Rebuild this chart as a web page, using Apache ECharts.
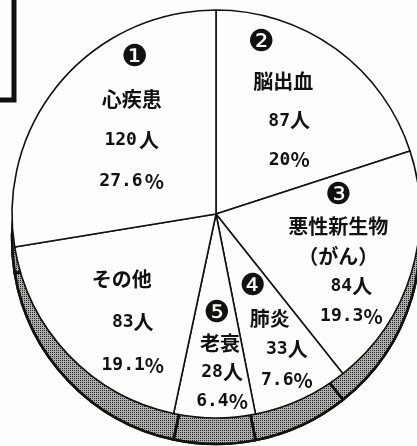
<!DOCTYPE html>
<html>
<head>
<meta charset="utf-8">
<script src="https://cdn.jsdelivr.net/npm/echarts@6/dist/echarts.min.js"></script>
<style>
    html, body { margin: 0; padding: 0; background: #fdfdfb; }
    #chart { width: 417px; height: 446px; }
</style>
</head>
<body>
<div id="chart"></div>
<script>
// 死因別の内訳（時計回り、12時の位置から）
const causes   = ['脳出血', '悪性新生物', '肺炎', '老衰', 'その他', '心疾患'];
const deaths   = [87, 84, 33, 28, 83, 120];
const shares   = ['20', '19.3', '7.6', '6.4', '19.1', '27.6'];
const ranks    = ['❷', '❸', '❹', '❺', '', '❶'];
const subNotes = ['', '（がん）', '', '', '', ''];

const CJK  = '"Noto Sans CJK JP", sans-serif';
const MONO = '"DejaVu Sans Mono", "Liberation Mono", monospace';

const CENTER = [216, 214];
const R = 204;

// ラベル位置の微調整（行間・ずれ・行ごとの横ずらし [番号, 名前, 数値]）
const labelTweak = {
    '脳出血':     { lh: 39, dx: -6, dy: -5, sh: [-27, -5, 1] },
    '悪性新生物': { lh: 30, dx: 0,  dy: 4,  sh: [-5, -5, 8] },
    '肺炎':       { lh: 31, dx: 3,  dy: -1, sh: [-22, -5, 12] },
    '老衰':       { lh: 29, dx: 5,  dy: 11, sh: [-3, 0, 2] },
    'その他':     { lh: 43, dx: 9,  dy: 17, sh: [0, -7, 4] },
    '心疾患':     { lh: 41, dx: 17, dy: -8, sh: [3, 0, -1] },
};

function pad(s) {
    return s >= 0 ? [0, 0, 0, 2 * s] : [0, -2 * s, 0, 0];
}

function makeRich(t) {
    return {
        mark: { fontFamily: '"DejaVu Sans", sans-serif', fontSize: 30, color: '#111', lineHeight: t.lh, padding: pad(t.sh[0]) },
        name: { fontFamily: CJK, fontSize: 20, fontWeight: 'bold', color: '#111', lineHeight: t.lh, padding: pad(t.sh[1]) },
        num:  { fontFamily: MONO, fontSize: 18, fontWeight: 'bold', color: '#111', lineHeight: t.lh, padding: pad(t.sh[2]) },
        unit: { fontFamily: CJK, fontSize: 20, fontWeight: 'bold', color: '#111', lineHeight: t.lh },
        pct:  { fontFamily: CJK, fontSize: 20, fontWeight: 'bold', color: '#111', lineHeight: t.lh },
    };
}

function labelText(i) {
    const lines = [];
    if (ranks[i]) lines.push(`{mark|${ranks[i]}}`);
    lines.push(`{name|${causes[i]}}`);
    if (subNotes[i]) lines.push(`{name|${subNotes[i]}}`);
    lines.push(`{num|${deaths[i]}}{unit|人}`);
    lines.push(`{num|${shares[i]}}{pct|%}`);
    return lines.join('\n');
}

const sliceData = causes.map((c, i) => ({ name: c, value: deaths[i] }));

const labelData = causes.map((c, i) => {
    const t = labelTweak[c];
    return {
        name: c,
        value: deaths[i],
        label: {
            formatter: labelText(i),
            rich: makeRich(t),
            offset: [t.dx, t.dy],
        },
    };
});

const chart = echarts.init(document.getElementById('chart'));

chart.setOption({
    backgroundColor: '#fdfdfb',
    animation: false,
    graphic: [
        {
            type: 'rect',
            shape: { x: -20, y: -10, width: 34, height: 110 },
            style: { fill: '#fdfdfb', stroke: '#111', lineWidth: 5 },
            z: 10,
        },
    ],
    series: [
        // 側面（厚み）
        {
            type: 'pie',
            silent: true,
            z: 1,
            center: [CENTER[0], CENTER[1] + 26],
            radius: R,
            startAngle: 90,
            label: { show: false },
            labelLine: { show: false },
            itemStyle: {
                color: '#b0b0b0',
                borderColor: '#111',
                borderWidth: 2.5,
                decal: {
                    symbol: 'rect',
                    symbolSize: 1,
                    color: '#222',
                    dashArrayX: [1, 1],
                    dashArrayY: [1, 1],
                },
            },
            data: sliceData,
        },
        // 上面
        {
            type: 'pie',
            silent: true,
            z: 2,
            center: CENTER,
            radius: R,
            startAngle: 90,
            label: { show: false },
            labelLine: { show: false },
            itemStyle: { color: '#fdfdfb', borderColor: '#111', borderWidth: 1.6 },
            data: sliceData,
        },
        // ラベル用（透明）
        {
            type: 'pie',
            silent: true,
            z: 3,
            center: CENTER,
            radius: [0, 260],
            startAngle: 90,
            avoidLabelOverlap: false,
            labelLayout: { hideOverlap: false },
            itemStyle: { color: 'rgba(0,0,0,0)', borderWidth: 0 },
            labelLine: { show: false },
            label: { show: true, position: 'inside', align: 'center' },
            data: labelData,
        },
    ],
});
</script>
</body>
</html>
